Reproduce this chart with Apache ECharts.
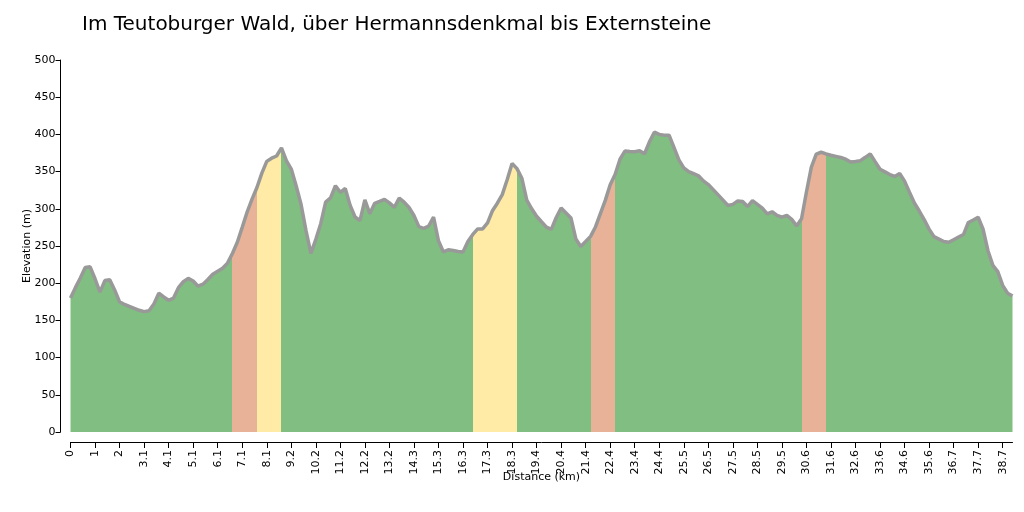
<!DOCTYPE html>
<html>
<head>
<meta charset="utf-8">
<script src="https://cdn.jsdelivr.net/npm/echarts@6/dist/echarts.min.js"></script>
<style>html,body{margin:0;padding:0;background:#fff}#c{width:1024px;height:512px}</style>
</head>
<body>
<div id="c"></div>
<script>
// Tick labels on the distance axis (km), one every 5 samples
const tickLabels = ['0','1','2','3.1','4.1','5.1','6.1','7.1','8.1','9.2','10.2','11.2','12.2','13.2','14.3','15.3','16.3','17.3','18.3','19.4','20.4','21.4','22.4','23.4','24.4','25.5','26.5','27.5','28.5','29.5','30.6','31.6','32.6','33.6','34.6','35.6','36.7','37.7','38.7'];
const samplesPerTick = 5;
// Elevation (m) at each sample along the route
const elevation = [
180,194,207,221,222,206,188,203.5,204.5,191,
175,171.4,168.7,166.3,163.6,161.8,163,172,186.5,181.5,
177,180,194,202,206.5,203,196,198.7,205,212,
216,220,227,240,255,275,295.6,313,328.6,348,
363.7,368,371,382,364.6,353.4,330.7,305.7,270.6,240,
259,280,309,314.6,331,322.2,327.3,304.6,289,284,
312,293.5,307.4,310,312.7,308,302,314.5,309,301.7,
291,276,273.8,276.9,289,257,242,245,244,242.5,
242,256,265.5,273,273,281,297.4,307.5,319,339,
361,354,341,311.7,300,290,282.6,275.4,272.3,288.3,
301,294.4,287.7,259.6,249.4,256,263,275.6,293.4,311.3,
332.4,346,366.6,377.6,377,376.8,378,374,390,403,
400,399,399,382.5,365.7,355,350,347.2,344.3,337.5,
332.6,325.8,318.7,311.6,304.5,306,310.6,309.8,303,311,
306,301,293.2,296,291.2,288.7,291,285.8,277,286.6,
322.6,356,373.5,376,373.7,372,370.5,369,366.7,362.8,
363.6,364.7,369.2,373.8,363.4,353.2,349.6,346,343.5,347.4,
337.2,322.4,307.8,297,285.4,272.7,262.6,259.3,256,255,
258.5,262,265.4,281.6,285,288.6,272.5,243.6,224,215.6,
197,186.6,182.7
];
// Gradient class sections: start sample of each section and its class
const sectionStarts = [0, 33, 38, 43, 82, 91, 106, 111, 149, 154];
const sectionClass  = ['flat','steep','moderate','flat','moderate','flat','steep','flat','steep','flat'];
const classColors = {flat:'#81be81', moderate:'#ffeaa6', steep:'#e8b298'};

const categories = elevation.map((_, i) => (i % samplesPerTick === 0 && tickLabels[i / samplesPerTick] !== undefined) ? tickLabels[i / samplesPerTick] : '');

const pieces = sectionStarts.map((s, k) => {
  const p = {color: classColors[sectionClass[k]]};
  if (k > 0) p.gte = s;
  if (k < sectionStarts.length - 1) p.lt = sectionStarts[k + 1];
  return p;
});

const chart = echarts.init(document.getElementById('c'), null, {renderer: 'canvas'});
const font = 'DejaVu Sans, Verdana, sans-serif';
chart.setOption({
  animation: false,
  backgroundColor: '#fff',
  title: {
    text: 'Im Teutoburger Wald, über Hermannsdenkmal bis Externsteine',
    left: 77, top: 10,
    textStyle: {fontFamily: font, fontSize: 20, fontWeight: 'normal', color: '#000'}
  },
  grid: {left: 70.5, top: 60, width: 942, height: 372},
  xAxis: {
    type: 'category',
    data: categories,
    boundaryGap: false,
    offset: 10,
    name: 'Distance (km)',
    nameLocation: 'middle',
    nameGap: 30,
    nameMoveOverlap: false,
    nameTextStyle: {fontFamily: font, fontSize: 11, color: '#000'},
    axisLine: {onZero: false, lineStyle: {color: '#000', width: 1}},
    axisTick: {interval: samplesPerTick - 1, length: 6, lineStyle: {color: '#000'}},
    axisLabel: {interval: samplesPerTick - 1, rotate: 90, margin: 8, fontFamily: font, fontSize: 11, color: '#000'},
    splitLine: {show: false}
  },
  yAxis: {
    type: 'value',
    min: 0, max: 500, interval: 50,
    offset: 10,
    name: 'Elevation (m)',
    nameLocation: 'middle',
    nameGap: 28,
    nameMoveOverlap: false,
    nameTextStyle: {fontFamily: font, fontSize: 11, color: '#000'},
    axisLine: {show: true, onZero: false, lineStyle: {color: '#000', width: 1}},
    axisTick: {show: true, length: 5, lineStyle: {color: '#000'}},
    axisLabel: {fontFamily: font, fontSize: 11, color: '#000', margin: 5},
    splitLine: {show: false}
  },
  visualMap: {
    show: false,
    type: 'piecewise',
    seriesIndex: 0,
    dimension: 0,
    pieces: pieces
  },
  series: [
    {
      type: 'line',
      data: elevation,
      symbol: 'none',
      lineStyle: {width: 0},
      areaStyle: {opacity: 1},
      silent: true
    },
    {
      type: 'line',
      data: elevation,
      symbol: 'none',
      lineStyle: {color: '#999999', width: 3.5},
      silent: true
    }
  ]
});
</script>
</body>
</html>
